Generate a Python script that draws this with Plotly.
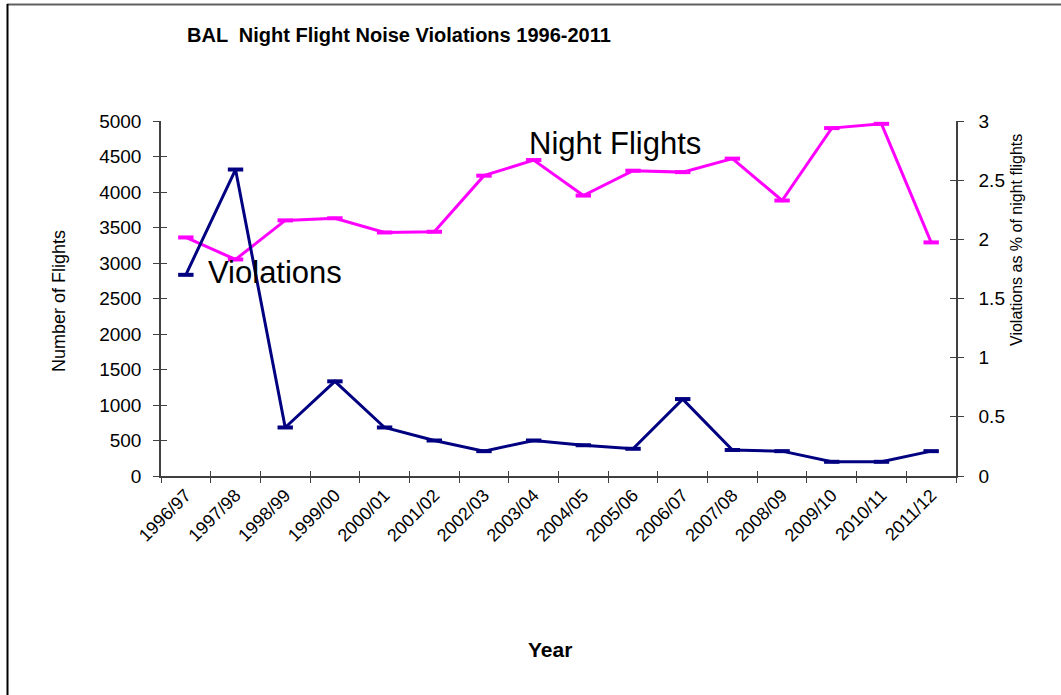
import plotly.graph_objects as go

years = ["1996/97", "1997/98", "1998/99", "1999/00", "2000/01", "2001/02", "2002/03",
         "2003/04", "2004/05", "2005/06", "2006/07", "2007/08", "2008/09", "2009/10",
         "2010/11", "2011/12"]
night_flights = [3360, 3050, 3600, 3630, 3430, 3440, 4230, 4450, 3950, 4300, 4280,
                 4470, 3880, 4900, 4960, 3290]
violations_pct = [1.70, 2.59, 0.41, 0.80, 0.41, 0.30, 0.21, 0.30, 0.26, 0.23, 0.65,
                  0.22, 0.21, 0.12, 0.12, 0.21]

W, H = 1061, 695
ML, MR, MT, MB = 161, 105, 121, 219
PW, PH = W - ML - MR, H - MT - MB

def px_x(p):
    return (p - ML) / PW

def px_y(p):
    return (H - MB - p) / PH

AX = "#404040"
FONT = "Arial, Liberation Sans, sans-serif"

fig = go.Figure()
fig.add_trace(go.Scatter(
    x=years, y=night_flights, name="Night Flights", mode="lines+markers",
    line=dict(color="#FF00FF", width=3),
    marker=dict(symbol="line-ew", size=11, line=dict(color="#FF00FF", width=4)),
    yaxis="y", xaxis="x"))
fig.add_trace(go.Scatter(
    x=years, y=violations_pct, name="Violations", mode="lines+markers",
    line=dict(color="#000080", width=3),
    marker=dict(symbol="line-ew", size=11, line=dict(color="#000080", width=4)),
    yaxis="y2", xaxis="x"))
# invisible helper traces so the inner-tick overlay axes are drawn
idx = list(range(len(years)))
fig.add_trace(go.Scatter(x=idx, y=night_flights, xaxis="x2", yaxis="y3",
                         mode="markers", marker=dict(opacity=0), hoverinfo="skip",
                         showlegend=False))
fig.add_trace(go.Scatter(x=idx, y=violations_pct, xaxis="x2", yaxis="y4",
                         mode="markers", marker=dict(opacity=0), hoverinfo="skip",
                         showlegend=False))

fig.update_layout(
    width=W, height=H,
    margin=dict(l=ML, r=MR, t=MT, b=MB, autoexpand=False),
    paper_bgcolor="white", plot_bgcolor="white",
    showlegend=False,
    font=dict(family=FONT, size=18, color="black"),
    xaxis=dict(
        type="category", range=[-0.5, 15.5], tickson="boundaries",
        ticks="outside", ticklen=5, tickcolor=AX, tickwidth=1,
        showline=True, linecolor=AX, linewidth=1.5, showgrid=False, zeroline=False,
        tickangle=-45, tickfont=dict(size=18),
    ),
    xaxis2=dict(
        overlaying="x", range=[-0.5, 15.5], tick0=-0.5, dtick=1, tickmode="linear",
        ticks="inside", ticklen=5, tickcolor=AX, showticklabels=False,
        showgrid=False, zeroline=False, showline=False, anchor="y",
    ),
    yaxis=dict(
        range=[0, 5000], dtick=500, ticks="outside", ticklen=6, tickcolor=AX,
        showline=True, linecolor=AX, linewidth=1.5, showgrid=False, zeroline=False,
        tickfont=dict(size=19), ticklabelstandoff=8,
    ),
    yaxis2=dict(
        overlaying="y", side="right", range=[0, 3], dtick=0.5,
        ticks="outside", ticklen=6, tickcolor=AX,
        showline=True, linecolor=AX, linewidth=1.5, showgrid=False, zeroline=False,
        tickfont=dict(size=19), ticklabelstandoff=11,
    ),
    yaxis3=dict(
        overlaying="y", side="left", range=[0, 5000], dtick=500,
        ticks="inside", ticklen=6, tickcolor=AX, showticklabels=False,
        showgrid=False, zeroline=False, showline=False,
    ),
    yaxis4=dict(
        overlaying="y", side="right", range=[0, 3], dtick=0.5,
        ticks="inside", ticklen=6, tickcolor=AX, showticklabels=False,
        showgrid=False, zeroline=False, showline=False,
    ),
)

fig.add_annotation(text="<b>BAL  Night Flight Noise Violations 1996-2011</b>",
                   xref="paper", yref="paper", x=px_x(185), y=px_y(35),
                   xanchor="left", yanchor="middle", showarrow=False,
                   font=dict(size=20, family=FONT))
fig.add_annotation(text="<b>Year</b>", xref="paper", yref="paper",
                   x=px_x(550), y=px_y(649), xanchor="center", yanchor="middle",
                   showarrow=False, font=dict(size=21, family=FONT))
fig.add_annotation(text="Number of Flights", xref="paper", yref="paper",
                   x=px_x(59), y=px_y(301), xanchor="center", yanchor="middle",
                   textangle=-90, showarrow=False, font=dict(size=18, family=FONT))
fig.add_annotation(text="Violations as % of night flights", xref="paper", yref="paper",
                   x=px_x(1016), y=px_y(240), xanchor="center", yanchor="middle",
                   textangle=-90, showarrow=False, font=dict(size=16, family=FONT))
fig.add_annotation(text="Night Flights", xref="paper", yref="paper",
                   x=px_x(527), y=px_y(143), xanchor="left", yanchor="middle",
                   showarrow=False, font=dict(size=31, family=FONT))
fig.add_annotation(text="Violations", xref="paper", yref="paper",
                   x=px_x(206), y=px_y(272), xanchor="left", yanchor="middle",
                   showarrow=False, font=dict(size=31, family=FONT))

# outer frame (top and left edges)
fig.add_shape(type="line", xref="paper", yref="paper",
              x0=px_x(7), x1=px_x(W + 2), y0=px_y(4.5), y1=px_y(4.5),
              line=dict(color="#606060", width=2))
fig.add_shape(type="line", xref="paper", yref="paper",
              x0=px_x(7.5), x1=px_x(7.5), y0=px_y(4), y1=px_y(H + 2),
              line=dict(color="black", width=2))

fig.write_html("out.html")
